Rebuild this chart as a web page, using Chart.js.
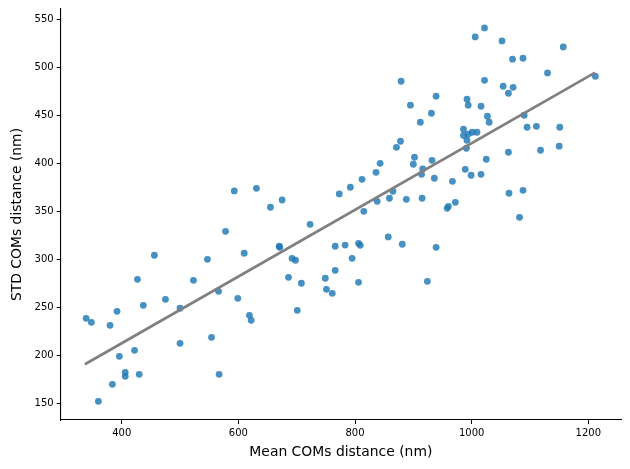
<!DOCTYPE html>
<html>
<head>
<meta charset="utf-8">
<script src="https://cdn.jsdelivr.net/npm/chart.js@4.4.1/dist/chart.umd.min.js"></script>
<style>
html,body{margin:0;padding:0;background:#fff;}
#wrap{width:630px;height:469px;position:relative;}
</style>
</head>
<body>
<div id="wrap"><canvas id="c" width="630" height="469"></canvas></div>
<script>
const meanDist = [593,631,655,675,773,1022,1006,1052,1157,1070,1088,1130,1212,879,1022,1054,1071,1063,939,895,992,994,1016,931,1027,1030,912,1090,1095,1111,1151,986,986,994,1001,1009,992,991,871,878,1063,1118,1150,902,900,932,916,914,936,843,836,812,792,1025,989,999,1016,967,865,838,859,888,915,815,972,958,960,1064,1088,1082,783,806,809,857,881,939,795,806,924,723,578,456,610,547,670,671,766,692,698,766,749,751,761,708,686,701,427,523,566,599,475,437,500,392,339,348,380,619,622,554,500,422,396,406,406,430,567,384,360];
const stdDist = [371.3,374.1,354.3,361.9,368.2,541.4,532.1,527.9,521.6,508.8,509.8,494.5,491.0,485.8,486.8,480.6,479.5,473.3,470.2,460.8,467.0,460.8,459.7,452.4,449.3,443.0,443.0,450.3,437.8,438.8,437.8,435.8,429.2,430.5,432.6,432.6,424.2,415.9,416.9,423.2,411.7,413.8,418.0,406.5,399.2,403.3,394.3,388.7,384.6,400.2,390.8,383.5,375.2,404.4,393.9,387.7,388.7,381.4,371.0,360.5,363.7,362.6,363.7,350.1,359.5,353.2,355.3,368.9,372.0,343.8,314.8,316.7,314.6,323.3,315.7,312.5,301.0,276.0,277.0,336.5,329.2,304.2,306.3,300.0,313.6,312.5,313.6,301.0,299.0,288.5,280.2,268.7,264.5,275.0,281.2,246.8,279.1,278.1,266.6,259.3,258.2,252.0,248.9,245.7,238.4,234.2,231.1,241.5,236.3,218.6,212.3,205.0,198.7,182.0,177.9,180.0,180.0,169.5,151.8];
const fitX = [337, 1211.5];
const fitY = [190.4, 494.8];
const xTicks = [400,600,800,1000,1200];
const yTicks = [150,200,250,300,350,400,450,500,550];

const pts = meanDist.map((x,i)=>({x:x,y:stdDist[i]}));
const line = fitX.map((x,i)=>({x:x,y:fitY[i]}));

Chart.defaults.font.family = "'DejaVu Sans', sans-serif";
Chart.defaults.color = '#000';

new Chart(document.getElementById('c'), {
  type: 'scatter',
  data: {
    datasets: [
      {type:'line', data: line, borderColor:'rgb(128,128,128)', borderWidth:2.8, pointRadius:0, fill:false, order:0},
      {data: pts, backgroundColor:'rgba(31,119,180,0.82)', borderWidth:0, pointRadius:3.4, pointHoverRadius:3.4, order:1}
    ]
  },
  options: {
    responsive:false, animation:false, devicePixelRatio:1,
    layout:{padding:{top:9, right:9, left:0, bottom:0}},
    plugins:{legend:{display:false}, tooltip:{enabled:false}},
    scales:{
      x:{
        type:'linear', min:295.4, max:1256,
        afterBuildTicks:(s)=>{s.ticks = xTicks.map(v=>({value:v}));},
        afterFit:(s)=>{s.height = 49;},
        grid:{display:true, drawOnChartArea:false, drawTicks:true, tickLength:4, color:'#000', tickWidth:1},
        border:{display:true, color:'#000', width:1.1},
        ticks:{font:{size:10}, color:'#000', padding:3, maxRotation:0, callback:(v)=>String(v)},
        title:{display:true, text:'Mean COMs distance (nm)', font:{size:13.9}, color:'#000', padding:{top:0,bottom:8.7}}
      },
      y:{
        type:'linear', min:132.3, max:561.2,
        afterBuildTicks:(s)=>{s.ticks = yTicks.map(v=>({value:v}));},
        afterFit:(s)=>{s.width = 60.7;},
        grid:{display:true, drawOnChartArea:false, drawTicks:true, tickLength:4, color:'#000', tickWidth:1},
        border:{display:true, color:'#000', width:1.1},
        ticks:{font:{size:10}, color:'#000', padding:3, callback:(v)=>String(v)},
        title:{display:true, text:'STD COMs distance (nm)', font:{size:13.9}, color:'#000', padding:{top:8.7,bottom:0}}
      }
    }
  }
});
</script>
</body>
</html>
